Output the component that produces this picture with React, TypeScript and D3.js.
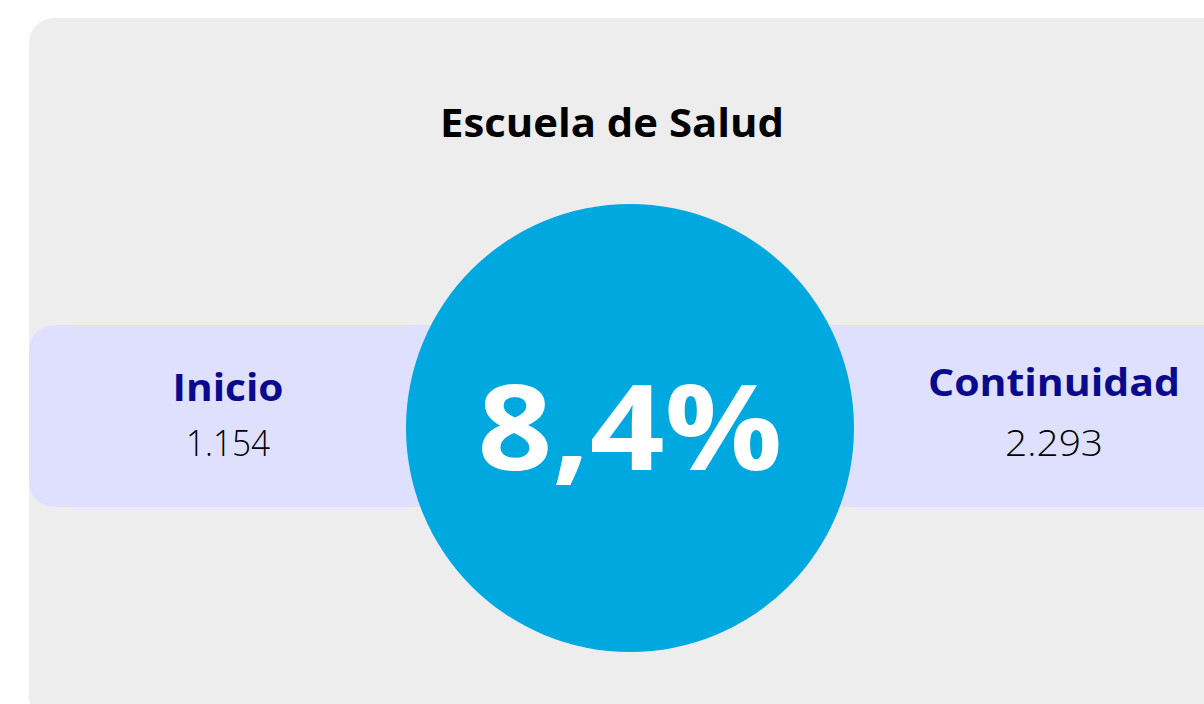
import React from "react";
import * as d3 from "d3";

const title = "Escuela de Salud";
const categories = ["Inicio", "Continuidad"];
const values = [1154, 2293];
const rateValue = [8.4];

const W = 1204;
const H = 704;

const locale = d3.formatLocale({
  decimal: ",",
  thousands: ".",
  grouping: [3],
  currency: ["", "€"],
});
const fmtInt = locale.format(",d");
const fmtPct = locale.format(".1f");

const FONT = "'Open Sans', 'Noto Sans', sans-serif";

export default function App() {
  const x = d3.scaleOrdinal<string, number>().domain(categories).range([228, 1054]);
  const cx = 630;
  const cy = 428;
  const r = 224;
  return (
    <svg
      width={W}
      height={H}
      style={{ position: "absolute", left: 0, top: 0, display: "block" }}
    >
      <rect x={0} y={0} width={W} height={H} fill="#ffffff" />
      <rect x={29} y={18} width={W + 40} height={704} rx={25} ry={25} fill="#ededed" />
      <rect x={29} y={325} width={W + 40} height={182} rx={25} ry={25} fill="#dfe0fe" />
      <text
        x={612}
        y={137}
        textAnchor="middle"
        fontFamily={FONT}
        fontWeight={700}
        fontSize={40}
        fill="#000000"
        textLength={344}
        lengthAdjust="spacingAndGlyphs"
      >
        {title}
      </text>
      {categories.map((c, i) => (
        <g key={c}>
          <text
            x={x(c)}
            y={i === 0 ? 401 : 396}
            textAnchor="middle"
            fontFamily={FONT}
            fontWeight={700}
            fontSize={38}
            fill="#0a0a8c"
            textLength={i === 0 ? 111 : 252}
            lengthAdjust="spacingAndGlyphs"
          >
            {c}
          </text>
          <text
            x={x(c)}
            y={456}
            textAnchor="middle"
            fontFamily={FONT}
            fontWeight={300}
            fontSize={37}
            fill="#000000"
            textLength={i === 0 ? 84 : 98}
            lengthAdjust="spacingAndGlyphs"
          >
            {fmtInt(values[i])}
          </text>
        </g>
      ))}
      <circle cx={cx} cy={cy} r={r} fill="#00a8e0" />
      <text
        x={cx}
        y={470}
        textAnchor="middle"
        fontFamily={FONT}
        fontWeight={700}
        fontSize={118}
        fill="#ffffff"
        textLength={305}
        lengthAdjust="spacingAndGlyphs"
      >
        {fmtPct(rateValue[0]) + "%"}
      </text>
    </svg>
  );
}
